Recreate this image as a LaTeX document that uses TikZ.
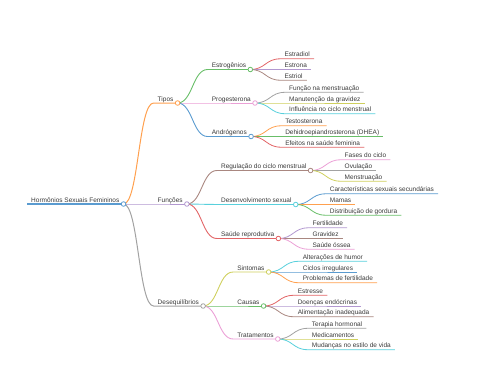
\documentclass[tikz,border=0pt]{standalone}
\usepackage{fontspec}
\setmainfont{Liberation Sans}
\usetikzlibrary{calc}
\definecolor{mmblue}{HTML}{5A9BD0}
\definecolor{mmorange}{HTML}{FFA04E}
\definecolor{mmgreen}{HTML}{68BE68}
\definecolor{mmred}{HTML}{E26466}
\definecolor{mmpurple}{HTML}{B298D0}
\definecolor{mmbrown}{HTML}{A98780}
\definecolor{mmpink}{HTML}{EBA0D6}
\definecolor{mmgray}{HTML}{A2A2A2}
\definecolor{mmolive}{HTML}{CFD05E}
\definecolor{mmcyan}{HTML}{58D0DC}
\definecolor{inkgray}{HTML}{3A3A3A}

\begin{document}
\begin{tikzpicture}[
    x=1pt, y=-1pt,
    topic/.style={anchor=south west, inner xsep=4pt, inner ysep=0pt, text height=4.8pt, text depth=1.8pt, font=\fontsize{6.5}{7}\selectfont, text=inkgray},
    knob/.style={circle, draw=#1, fill=white, line width=0.8pt, minimum size=4.6pt, inner sep=0pt},
    branch/.style={line width=0.9pt, to path={.. controls +(15,0) and +(-15,0) .. (\tikztotarget.south west) -- (\tikztotarget.south east)}},
    twig/.style={branch, line width=0.8pt}
]
  \useasboundingbox (0,0) rectangle (480,384);

  % root and main branches
  \node[topic] (root) at (27,204) {Hormônios Sexuais Femininos};
  \node[topic] (tipos) at ($(root.south east)+(30,-101)$) {Tipos};
  \node[topic] (funcoes) at ($(root.south east)+(30,0)$) {Funções};
  \node[topic] (deseq) at ($(root.south east)+(30,102)$) {Desequilíbrios};

  % Tipos
  \node[topic] (estrog) at ($(tipos.south east)+(30,-33.5)$) {Estrogênios};
  \node[topic] (proges) at ($(tipos.south east)+(30,0)$) {Progesterona};
  \node[topic] (andro) at ($(tipos.south east)+(30,33.5)$) {Andrógenos};
  \node[topic] (estradiol) at ($(estrog.south east)+(30,-10.7)$) {Estradiol};
  \node[topic] (estrona) at ($(estrog.south east)+(30,0)$) {Estrona};
  \node[topic] (estriol) at ($(estrog.south east)+(30,10.7)$) {Estriol};
  \node[topic] (funcmens) at ($(proges.south east)+(30,-10.7)$) {Função na menstruação};
  \node[topic] (manut) at ($(proges.south east)+(30,0)$) {Manutenção da gravidez};
  \node[topic] (influ) at ($(proges.south east)+(30,10.7)$) {Influência no ciclo menstrual};
  \node[topic] (testo) at ($(andro.south east)+(30,-10.7)$) {Testosterona};
  \node[topic] (dhea) at ($(andro.south east)+(30,0)$) {Dehidroepiandrosterona (DHEA)};
  \node[topic] (efeitos) at ($(andro.south east)+(30,10.7)$) {Efeitos na saúde feminina};

  % Funções
  \node[topic] (regul) at ($(funcoes.south east)+(30,-33.5)$) {Regulação do ciclo menstrual};
  \node[topic] (desenv) at ($(funcoes.south east)+(30,0.5)$) {Desenvolvimento sexual};
  \node[topic] (saude) at ($(funcoes.south east)+(30,34.5)$) {Saúde reprodutiva};
  \node[topic] (fases) at ($(regul.south east)+(30,-10.7)$) {Fases do ciclo};
  \node[topic] (ovul) at ($(regul.south east)+(30,0)$) {Ovulação};
  \node[topic] (menst) at ($(regul.south east)+(30,10.7)$) {Menstruação};
  \node[topic] (caract) at ($(desenv.south east)+(30,-10.7)$) {Características sexuais secundárias};
  \node[topic] (mamas) at ($(desenv.south east)+(30,0)$) {Mamas};
  \node[topic] (distrib) at ($(desenv.south east)+(30,10.7)$) {Distribuição de gordura};
  \node[topic] (fertil) at ($(saude.south east)+(30,-10.7)$) {Fertilidade};
  \node[topic] (gravidez) at ($(saude.south east)+(30,0)$) {Gravidez};
  \node[topic] (ossea) at ($(saude.south east)+(30,10.7)$) {Saúde óssea};

  % Desequilíbrios
  \node[topic] (sintomas) at ($(deseq.south east)+(30,-34)$) {Sintomas};
  \node[topic] (causas) at ($(deseq.south east)+(30,0)$) {Causas};
  \node[topic] (tratam) at ($(deseq.south east)+(30,33)$) {Tratamentos};
  \node[topic] (alter) at ($(sintomas.south east)+(30,-10.7)$) {Alterações de humor};
  \node[topic] (ciclos) at ($(sintomas.south east)+(30,0)$) {Ciclos irregulares};
  \node[topic] (problemas) at ($(sintomas.south east)+(30,10.7)$) {Problemas de fertilidade};
  \node[topic] (estresse) at ($(causas.south east)+(30,-10.7)$) {Estresse};
  \node[topic] (doencas) at ($(causas.south east)+(30,0)$) {Doenças endócrinas};
  \node[topic] (aliment) at ($(causas.south east)+(30,10.7)$) {Alimentação inadequada};
  \node[topic] (terapia) at ($(tratam.south east)+(30,-10.7)$) {Terapia hormonal};
  \node[topic] (medic) at ($(tratam.south east)+(30,0)$) {Medicamentos};
  \node[topic] (mudancas) at ($(tratam.south east)+(30,10.7)$) {Mudanças no estilo de vida};

  % connectors with underlines
  \draw[mmblue, line width=1.5pt] (root.south west) -- (root.south east);
  \draw (root.south east) edge[branch, line width=1pt, mmorange] (tipos)
        edge[branch, line width=1pt, mmpurple] (funcoes)
        edge[branch, line width=1pt, mmgray] (deseq);
  \draw (tipos.south east) edge[branch, mmgreen] (estrog)
        edge[branch, mmpink] (proges)
        edge[branch, mmblue] (andro);
  \draw (funcoes.south east) edge[branch, mmbrown] (regul)
        edge[branch, mmcyan] (desenv)
        edge[branch, mmred] (saude);
  \draw (deseq.south east) edge[branch, mmolive] (sintomas)
        edge[branch, mmgreen] (causas)
        edge[branch, mmpink] (tratam);
  \draw (estrog.south east) edge[twig, mmred] (estradiol) edge[twig, mmpurple] (estrona) edge[twig, mmbrown] (estriol);
  \draw (proges.south east) edge[twig, mmgray] (funcmens) edge[twig, mmolive] (manut) edge[twig, mmcyan] (influ);
  \draw (andro.south east) edge[twig, mmorange] (testo) edge[twig, mmgreen] (dhea) edge[twig, mmred] (efeitos);
  \draw (regul.south east) edge[twig, mmpink] (fases) edge[twig, mmgray] (ovul) edge[twig, mmolive] (menst);
  \draw (desenv.south east) edge[twig, mmblue] (caract) edge[twig, mmorange] (mamas) edge[twig, mmgreen] (distrib);
  \draw (saude.south east) edge[twig, mmpurple] (fertil) edge[twig, mmbrown] (gravidez) edge[twig, mmpink] (ossea);
  \draw (sintomas.south east) edge[twig, mmcyan] (alter) edge[twig, mmblue] (ciclos) edge[twig, mmorange] (problemas);
  \draw (causas.south east) edge[twig, mmred] (estresse) edge[twig, mmpurple] (doencas) edge[twig, mmbrown] (aliment);
  \draw (tratam.south east) edge[twig, mmgray] (terapia) edge[twig, mmolive] (medic) edge[twig, mmcyan] (mudancas);

  % fold circles
  \node[knob=mmblue] at (root.south east) {};
  \node[knob=mmorange] at (tipos.south east) {};
  \node[knob=mmpurple] at (funcoes.south east) {};
  \node[knob=mmgray] at (deseq.south east) {};
  \node[knob=mmgreen] at (estrog.south east) {};
  \node[knob=mmpink] at (proges.south east) {};
  \node[knob=mmblue] at (andro.south east) {};
  \node[knob=mmbrown] at (regul.south east) {};
  \node[knob=mmcyan] at (desenv.south east) {};
  \node[knob=mmred] at (saude.south east) {};
  \node[knob=mmolive] at (sintomas.south east) {};
  \node[knob=mmgreen] at (causas.south east) {};
  \node[knob=mmpink] at (tratam.south east) {};
\end{tikzpicture}
\end{document}
